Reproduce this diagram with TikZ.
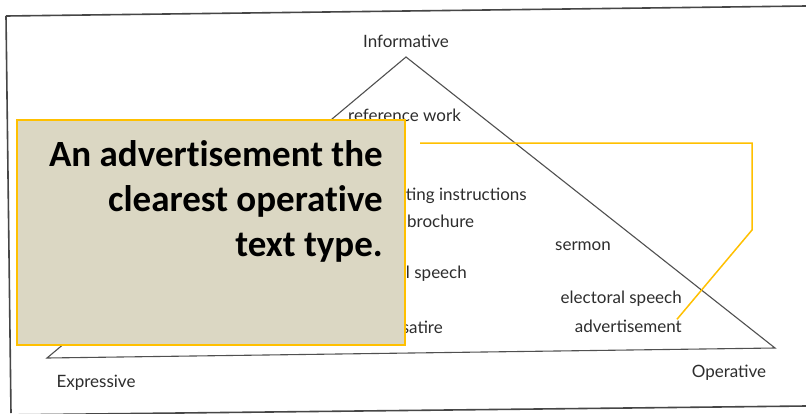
\documentclass[tikz,border=0pt]{standalone}
\usepackage{fontspec}
\setmainfont{Lato}
\newfontfamily\calloutfont[Ligatures=NoCommon]{Carlito}
\usepackage{tikz}
\usetikzlibrary{positioning}
\definecolor{framegray}{RGB}{70,70,70}
\definecolor{linegray}{RGB}{80,80,80}
\definecolor{labelgray}{RGB}{45,45,45}
\definecolor{calloutfill}{RGB}{219,215,195}
\definecolor{calloutgold}{RGB}{255,192,0}

\begin{document}
\begin{tikzpicture}[x=1pt,y=-1pt,
    frame/.style={draw=framegray,line width=1.6pt},
    triangle/.style={draw=linegray,line width=1.1pt,line join=miter},
    pole/.style={font=\fontsize{17}{20}\selectfont,text=labelgray,inner sep=0pt},
    texttype/.style={font=\fontsize{17}{20}\selectfont,text=labelgray,inner sep=0pt},
    calloutbox/.style={rectangle,fill=calloutfill,draw=calloutgold,line width=1.5pt,inner sep=0pt},
    callouttext/.style={font=\calloutfont\bfseries\fontsize{37}{45}\selectfont,align=right,inner sep=0pt},
    leader/.style={draw=calloutgold,line width=1.5pt}
    ]
    \useasboundingbox (0,0) rectangle (806,413);
    \clip (0,0) rectangle (806,413);
    \fill[white] (0,0) rectangle (806,413);

    % scanned frame
    \draw[frame] (6,16) -- (806,6);
    \draw[frame] (6,16) -- (11,413);
    \draw[frame] (0,415) -- (806,406);

    % the triangle
    \coordinate (apex) at (406,57);
    \coordinate (expr) at (47,358);
    \coordinate (oper) at (775,348);
    \draw[triangle] (apex) -- (oper) -- (expr) -- cycle;

    \node[pole,anchor=base] (informative) at (406,47) {Informative};
    \node[pole,anchor=base] (expressive) at (96,387) {Expressive};
    \node[pole,anchor=base] (operative) at (729,377) {Operative};

    \node[texttype,anchor=base west] (refwork) at (348,121) {reference work};
    \node[texttype,anchor=base east] (instr) at (527,200) {ting instructions};
    \node[texttype,anchor=base west] (brochure) at (407,227) {brochure};
    \node[texttype,anchor=base west] (sermon) at (555,250) {sermon};
    \node[texttype,anchor=base east] (speech) at (467,278) {l speech};
    \node[texttype,anchor=base east] (electoral) at (682,303) {electoral speech};
    \node[texttype,anchor=base east] (advert) at (682,332) {advertisement};
    \node[texttype,anchor=base east] (satire) at (443,333) {satire};

    % callout
    \node[calloutbox,anchor=north west,minimum width=388pt,minimum height=225pt] (callout) at (16,119) {};
    \node[callouttext,anchor=north east] (callouttxt) at (383,140) {An advertisement the\\clearest operative\\text type.};

    \coordinate (leadin) at (420,143);
    \coordinate (bendA) at (752,143);
    \coordinate (bendB) at (752,230);
    \draw[leader] (leadin) -- (bendA) -- (bendB) -- ([xshift=-5pt]advert.north east);

\end{tikzpicture}
\end{document}
